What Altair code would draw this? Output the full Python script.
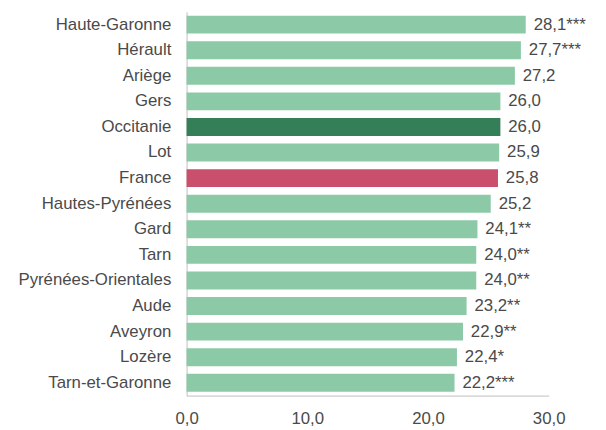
import altair as alt
import pandas as pd

categories = ["Haute-Garonne", "Hérault", "Ariège", "Gers", "Occitanie", "Lot", "France",
              "Hautes-Pyrénées", "Gard", "Tarn", "Pyrénées-Orientales", "Aude", "Aveyron",
              "Lozère", "Tarn-et-Garonne"]
values = [28.1, 27.7, 27.2, 26.0, 26.0, 25.9, 25.8, 25.2, 24.1, 24.0, 24.0, 23.2, 22.9, 22.4, 22.2]
stars = ["***", "***", "", "", "", "", "", "", "**", "**", "**", "**", "**", "*", "***"]
groups = ["dep", "dep", "dep", "dep", "reg", "dep", "fr", "dep", "dep", "dep", "dep", "dep",
          "dep", "dep", "dep"]

df = pd.DataFrame({
    "cat": categories,
    "val": values,
    "grp": groups,
    "label": [f"{v:.1f}".replace(".", ",") + s for v, s in zip(values, stars)],
})

font = "Liberation Sans"
fs = 17
tc = "#4a4a4a"

y = alt.Y("cat:N", sort=categories, title=None,
          scale=alt.Scale(paddingInner=0.3, paddingOuter=0.15),
          axis=alt.Axis(ticks=False, domainColor="#bfbfbf", labelFont=font, labelFontSize=fs,
                        labelColor=tc, labelPadding=16))

bars = alt.Chart(df).mark_bar().encode(
    x=alt.X("val:Q", title=None, scale=alt.Scale(domain=[0, 30], nice=False),
            axis=alt.Axis(values=[0, 10, 20, 30], ticks=False, grid=False, domainColor="#bfbfbf",
                          labelFont=font, labelFontSize=fs, labelColor=tc,
                          labelPadding=15, labelFlush=False,
                          labelExpr="replace(format(datum.value, '.1f'), '.', ',')")),
    y=y,
    color=alt.Color("grp:N", legend=None,
                    scale=alt.Scale(domain=["dep", "reg", "fr"],
                                    range=["#8cc9a6", "#347f57", "#c94f6d"])),
)

text = alt.Chart(df).mark_text(align="left", baseline="middle", dx=8, font=font,
                               fontSize=fs, color=tc).encode(
    x="val:Q", y=alt.Y("cat:N", sort=categories), text="label:N")

chart = (bars + text).properties(
    width=367, height=389,
    autosize=alt.AutoSizeParams(type="none"),
    padding={"left": 181, "top": 1, "right": 50, "bottom": 30},
).configure_view(stroke=None)

chart.save("out.html", embed_options={"renderer": "svg", "actions": False})
